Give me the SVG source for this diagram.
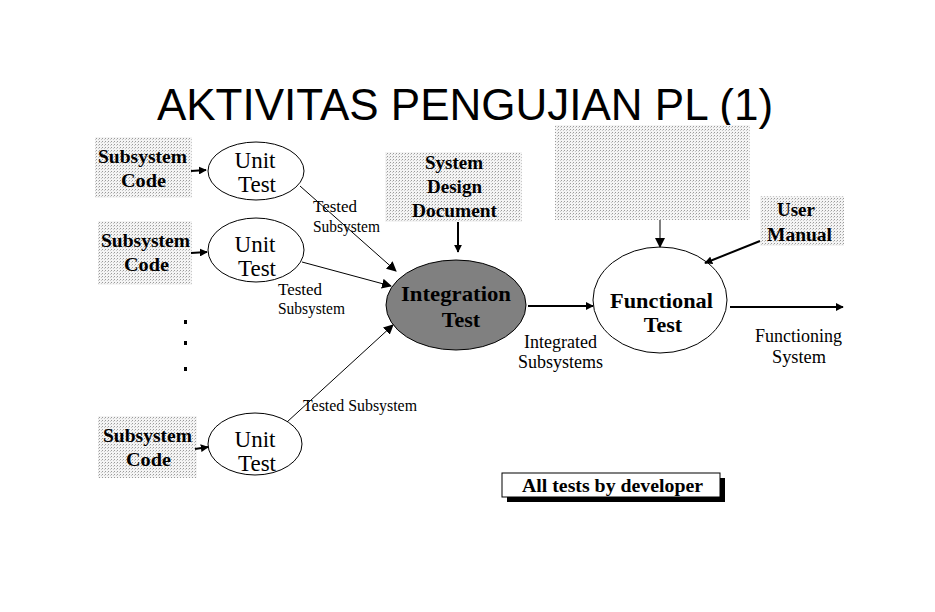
<svg xmlns="http://www.w3.org/2000/svg" width="935" height="612" viewBox="0 0 935 612">
<defs>
<pattern id="dots" width="3" height="3" patternUnits="userSpaceOnUse">
<rect width="3" height="3" fill="#f4f4f4"/>
<rect x="0" y="0" width="1" height="1" fill="#9a9a9a"/>
<rect x="2" y="1" width="1" height="1" fill="#c8c8c8"/>
</pattern>
<marker id="ah" viewBox="0 0 10 10" refX="9" refY="5" markerWidth="8" markerHeight="8" markerUnits="userSpaceOnUse" orient="auto">
<path d="M0,0 L10,5 L0,10 z" fill="#000"/>
</marker>
<marker id="ahs" viewBox="0 0 10 10" refX="9" refY="5" markerWidth="10" markerHeight="10" markerUnits="userSpaceOnUse" orient="auto">
<path d="M0,0 L10,5 L0,10 z" fill="#000"/>
</marker>
</defs>
<style>
.box{fill:url(#dots);stroke:none}
.lbl{font-family:"Liberation Serif",serif;font-weight:bold;font-size:18.5px;fill:#000}
.unit{font-family:"Liberation Serif",serif;font-size:23px;fill:#000}
.big{font-family:"Liberation Serif",serif;font-weight:bold;font-size:22px;fill:#000}
.small{font-family:"Liberation Serif",serif;font-size:16px;fill:#000}
.med{font-family:"Liberation Serif",serif;font-size:18px;fill:#000}
.ell{fill:#fff;stroke:#000;stroke-width:1}
.thick{stroke:#000;stroke-width:2;fill:none}
.thin{stroke:#000;stroke-width:1;fill:none}
</style>
<rect width="935" height="612" fill="#fff"/>
<text x="465" y="120" text-anchor="middle" font-family="Liberation Sans, Arial, sans-serif" font-size="44" fill="#000">AKTIVITAS PENGUJIAN PL (1)</text>

<g id="sub1"><rect class="box" x="95" y="137" width="97" height="61"/>
<text class="lbl" x="98" y="163" textLength="89" lengthAdjust="spacingAndGlyphs">Subsystem</text><text class="lbl" x="121" y="187" textLength="45" lengthAdjust="spacingAndGlyphs">Code</text></g>
<g id="sub2"><rect class="box" x="98" y="221" width="94" height="64"/>
<text class="lbl" x="101" y="247" textLength="89" lengthAdjust="spacingAndGlyphs">Subsystem</text><text class="lbl" x="124" y="271" textLength="45" lengthAdjust="spacingAndGlyphs">Code</text></g>
<g id="sub3"><rect class="box" x="98" y="416" width="99" height="62"/>
<text class="lbl" x="103" y="442" textLength="89" lengthAdjust="spacingAndGlyphs">Subsystem</text><text class="lbl" x="126" y="466" textLength="45" lengthAdjust="spacingAndGlyphs">Code</text></g>

<g id="unit1"><ellipse class="ell" cx="256" cy="171" rx="48" ry="29"/>
<text class="unit" x="255" y="168" text-anchor="middle">Unit</text><text class="unit" x="257" y="192" text-anchor="middle">Test</text></g>
<g id="unit2"><ellipse class="ell" cx="256" cy="250" rx="48" ry="32"/>
<text class="unit" x="255" y="252" text-anchor="middle">Unit</text><text class="unit" x="257" y="276" text-anchor="middle">Test</text></g>
<g id="unit3"><ellipse class="ell" cx="255" cy="444" rx="47" ry="31"/>
<text class="unit" x="255" y="447" text-anchor="middle">Unit</text><text class="unit" x="257" y="471" text-anchor="middle">Test</text></g>

<g id="sdd"><rect class="box" x="385" y="152" width="137" height="70"/>
<text class="lbl" x="425" y="169" textLength="58" lengthAdjust="spacingAndGlyphs">System</text><text class="lbl" x="427" y="193" textLength="55" lengthAdjust="spacingAndGlyphs">Design</text><text class="lbl" x="412" y="217" textLength="85" lengthAdjust="spacingAndGlyphs">Document</text></g>

<g id="blank"><rect class="box" x="555" y="125" width="195" height="95"/></g>

<g id="um"><rect class="box" x="760" y="196" width="84" height="50"/>
<text class="lbl" x="777" y="216" textLength="38" lengthAdjust="spacingAndGlyphs">User</text><text class="lbl" x="767" y="241" textLength="65" lengthAdjust="spacingAndGlyphs">Manual</text></g>

<g id="integration"><ellipse cx="456" cy="305" rx="70" ry="45" fill="#808080" stroke="#000" stroke-width="1"/>
<text class="big" x="401" y="301" textLength="110" lengthAdjust="spacingAndGlyphs">Integration</text><text class="big" x="461" y="327" text-anchor="middle">Test</text></g>

<g id="functional"><ellipse class="ell" cx="660" cy="300" rx="67" ry="53"/>
<text class="big" x="610" y="308" textLength="103" lengthAdjust="spacingAndGlyphs">Functional</text><text class="big" x="663" y="332" text-anchor="middle">Test</text></g>

<g id="dotsv"><rect x="184" y="320" width="3" height="4"/><rect x="184" y="341" width="3" height="4"/><rect x="184" y="367" width="3" height="4"/></g>

<g id="note"><rect x="507" y="478" width="218" height="24" fill="#000"/>
<rect x="502" y="473" width="218" height="24" fill="#fff" stroke="#000" stroke-width="1"/>
<text class="lbl" x="522" y="492" font-size="18" textLength="181" lengthAdjust="spacingAndGlyphs">All tests by developer</text></g>

<g id="connectors">
<line class="thick" x1="191" y1="171" x2="206" y2="170" marker-end="url(#ah)"/>
<line class="thick" x1="191" y1="253" x2="207" y2="252" marker-end="url(#ah)"/>
<line class="thick" x1="195" y1="449" x2="208" y2="447" marker-end="url(#ah)"/>
<line class="thin" x1="300" y1="186" x2="396" y2="271" marker-end="url(#ahs)"/>
<line class="thin" x1="302" y1="262" x2="391" y2="286" marker-end="url(#ahs)"/>
<line class="thin" x1="287" y1="422" x2="393" y2="325" marker-end="url(#ahs)"/>
<line class="thick" x1="458" y1="222" x2="458" y2="252" marker-end="url(#ah)"/>
<line class="thick" x1="528" y1="306" x2="593" y2="306" marker-end="url(#ah)"/>
<line class="thin" x1="660" y1="220" x2="660" y2="247" marker-end="url(#ahs)"/>
<line class="thick" x1="760" y1="241" x2="705" y2="263" marker-end="url(#ah)"/>
<line class="thick" x1="730" y1="307" x2="843" y2="307" marker-end="url(#ah)"/>
<text class="small" x="313" y="212" textLength="44" lengthAdjust="spacingAndGlyphs">Tested</text><text class="small" x="313" y="232" textLength="67" lengthAdjust="spacingAndGlyphs">Subsystem</text>
<text class="small" x="278" y="295" textLength="44" lengthAdjust="spacingAndGlyphs">Tested</text><text class="small" x="278" y="314" textLength="67" lengthAdjust="spacingAndGlyphs">Subsystem</text>
<text class="small" x="303" y="411" textLength="114" lengthAdjust="spacingAndGlyphs">Tested Subsystem</text>
<text class="med" x="524" y="348" textLength="73" lengthAdjust="spacingAndGlyphs">Integrated</text><text class="med" x="518" y="368" textLength="85" lengthAdjust="spacingAndGlyphs">Subsystems</text>
<text class="med" x="755" y="342" textLength="87" lengthAdjust="spacingAndGlyphs">Functioning</text><text class="med" x="772" y="363" textLength="54" lengthAdjust="spacingAndGlyphs">System</text>
</g>
</svg>
